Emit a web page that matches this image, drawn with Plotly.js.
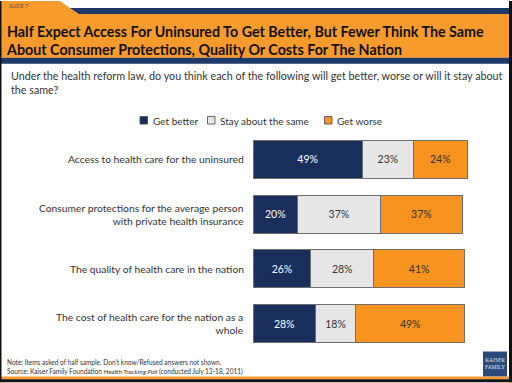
<!DOCTYPE html>
<html><head><meta charset="utf-8">
<script src="https://cdn.plot.ly/plotly-3.0.1.min.js"></script>
<style>html,body{margin:0;padding:0;background:#fff;}#c{width:512px;height:383px;}</style>
</head><body><div id="c"></div>
<script>
var categories = [
  "Access to health care for the uninsured",
  "Consumer protections for the average person<br>with private health insurance",
  "The quality of health care in the nation",
  "The cost of health care for the nation as a<br>whole"
];
var seriesNames = ["Get better", "Stay about the same", "Get worse"];
var getBetter = [49, 20, 26, 28];
var staySame = [23, 37, 28, 18];
var getWorse = [24, 37, 41, 49];

var W = 512, H = 383;
var L = 253, R = 36, T = 131.5, B = 31.5;
var PW = W - L - R, PH = H - T - B;
function px(x){ return (x - L) / PW; }
function py(y){ return (H - B - y) / PH; }

var NAVY = "#182f5c", GREY = "#e6e6e6", ORANGE = "#f7931e";
var COLORS = [NAVY, GREY, ORANGE];
var FONT = "Lato, 'Open Sans', sans-serif";

function mk(name, vals, color, tcolor){
  return {
    type: "bar", orientation: "h", name: name,
    y: categories, x: vals,
    marker: {color: color, line: {color: "#6e6e6e", width: 1}},
    text: vals.map(function(v){ return v + "%"; }),
    textposition: "inside", insidetextanchor: "middle",
    textfont: {family: FONT, size: 10.5, color: tcolor},
    hoverinfo: "skip", width: 0.69, showlegend: false
  };
}
var data = [
  mk(seriesNames[0], getBetter, NAVY, "#ffffff"),
  mk(seriesNames[1], staySame, GREY, "#333333"),
  mk(seriesNames[2], getWorse, ORANGE, "#333333")
];

function rect(x0,y0,x1,y1,color,line){
  return {type:"rect", xref:"paper", yref:"paper", x0:px(x0), x1:px(x1), y0:py(y1), y1:py(y0),
    fillcolor: color, line: line || {width:0}, layer:"below"};
}
function poly(pts,color){
  var d = pts.map(function(p,i){ return (i?"L":"M") + px(p[0]) + "," + py(p[1]); }).join(" ") + " Z";
  return {type:"path", xref:"paper", yref:"paper", path:d, fillcolor:color, line:{width:0}, layer:"below"};
}

var shapes = [
  rect(0,0,509,57,"#f89a2c"),
  poly([[60,0],[509,0],[509,7],[70,7]],"#ffffff"),
  poly([[70,7],[509,7],[509,13],[79,13]],"#1f3a68"),
  rect(0,57,509,63,"#1f3a68"),
  rect(0,377,509,380,"#f89a2c"),
  rect(0,380,512,383,"#111111"),
  rect(509,0,512,383,"#111111"),
  rect(0,0,1.5,383,"#111111"),
  rect(483,352,507,377,"#2a4a7a")
];

var annotations = [
  {xref:"paper", yref:"paper", x:px(7), y:py(5), xanchor:"left", yanchor:"middle",
   text:"SLIDE 7", showarrow:false, font:{family:FONT, size:5.5, color:"#555"}},
  {xref:"paper", yref:"paper", x:px(9), y:py(81.5), xanchor:"left", yanchor:"middle", align:"left",
   text:"Under the health reform law, do you think each of the following will get better, worse or will it stay about<br>the same?",
   showarrow:false, font:{family:FONT, size:10.75, color:"#333"}},
  {xref:"paper", yref:"paper", x:px(5), y:py(368.5), xanchor:"left", yanchor:"middle", align:"left",
   text:"Note: Items asked of half sample. Don't know/Refused answers not shown.<br>Source: Kaiser Family Foundation <i>Health Tracking Poll</i> (conducted July 13-18, 2011)",
   showarrow:false, font:{family:FONT, size:6.55, color:"#333"}},
  {xref:"paper", yref:"paper", x:px(495), y:py(364.5), xanchor:"center", yanchor:"middle", align:"center",
   text:"KAISER<br>FAMILY", showarrow:false, font:{family:"'Liberation Serif', serif", size:5.5, color:"#dfe6f0"}}
];
categories.forEach(function(c){
  annotations.push({xref:"paper", yref:"y", x:px(246), y:c, xanchor:"right", yanchor:"middle", align:"right",
    text:c, showarrow:false, font:{family:FONT, size:10.3, color:"#333"}});
});
// legend (custom, to match spacing of the reference)
var legX = [140, 207.5, 324.5];
seriesNames.forEach(function(n, i){
  shapes.push(rect(legX[i], 116, legX[i] + 7.5, 123.5, COLORS[i], {color:"#444", width:0.8}));
  annotations.push({xref:"paper", yref:"paper", x:px(legX[i] + 10.5), y:py(120), xanchor:"left", yanchor:"middle",
    text:n, showarrow:false, font:{family:FONT, size:10, color:"#333"}});
});

var layout = {
  width: W, height: H,
  margin: {l:L, r:R, t:T, b:B, pad:0},
  paper_bgcolor: "#ffffff", plot_bgcolor: "rgba(0,0,0,0)",
  barmode: "stack", bargap: 0.31,
  showlegend: false,
  title: {text:"Half Expect Access For Uninsured To Get Better, But Fewer Think The Same<br>About Consumer Protections, Quality Or Costs For The Nation",
    x: 7/W, xanchor:"left", xref:"container", y: 1 - 36.5/H, yref:"container", yanchor:"middle",
    font:{family:FONT, size:14.3, color:"#111", weight:"bold"}},
  xaxis: {range:[0,100], visible:false, fixedrange:true},
  yaxis: {autorange:"reversed", showticklabels:false, showgrid:false, zeroline:false, fixedrange:true,
    categoryorder:"array", categoryarray: categories},
  shapes: shapes,
  annotations: annotations
};
Plotly.newPlot("c", data, layout, {displayModeBar:false, staticPlot:true});
</script></body></html>
